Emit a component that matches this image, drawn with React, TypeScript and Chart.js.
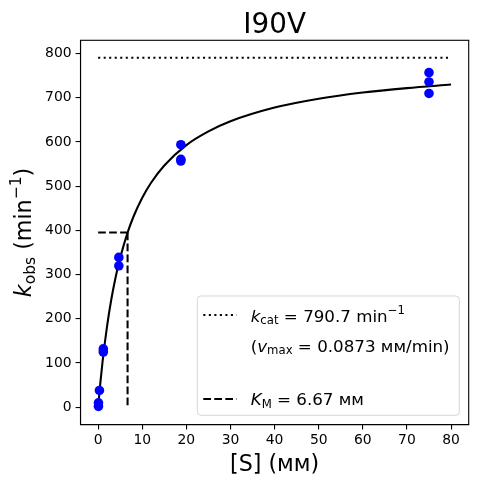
import React, { useEffect, useRef } from "react";
import { Chart, registerables } from "chart.js";

Chart.register(...registerables);

// Measured data: substrate concentration (mM) and observed rate (min^-1)
const substrateX = [0.073, 0.073, 0.293, 1.17, 1.17, 4.69, 4.69, 18.75, 18.75, 18.75, 75, 75, 75];
const kobsY = [2, 10, 38, 132, 125, 339, 320, 594, 561, 557, 757, 736, 710];

// Fitted curve
const curveX = [0, 0.5, 1, 2, 3, 4, 5, 6.67, 8, 10, 12, 15, 20, 25, 30, 40, 50, 60, 70, 80];
const curveY = [0, 55, 103, 182, 245, 296, 338, 395, 431, 474, 508, 547, 593, 624, 647, 678, 698, 712, 722, 730];

const kcat = 790.7;
const KM = 6.67;
const KMhalf = 395.35;
const xRange = [0, 80];

const xTicks = [0, 10, 20, 30, 40, 50, 60, 70, 80];
const yTicks = [0, 100, 200, 300, 400, 500, 600, 700, 800];

const FONT = "DejaVu Sans";

type Part = [string, string];

function partFont(kind: string, size: number) {
  const small = kind.startsWith("sub") || kind.startsWith("sup");
  const s = small ? size * 0.7 : size;
  const italic = kind === "i" || kind === "subi" || kind === "supi";
  return { font: `${italic ? "italic " : ""}${s}px "${FONT}"`, dy: kind.startsWith("sub") ? size * 0.16 : kind.startsWith("sup") ? -size * 0.45 : 0 };
}

function richWidth(ctx: CanvasRenderingContext2D, parts: Part[], size: number) {
  let w = 0;
  for (const [t, k] of parts) {
    ctx.font = partFont(k, size).font;
    w += ctx.measureText(t).width;
  }
  return w;
}

function drawRich(ctx: CanvasRenderingContext2D, parts: Part[], x: number, y: number, size: number, align: "left" | "center") {
  let cx = align === "center" ? x - richWidth(ctx, parts, size) / 2 : x;
  ctx.textAlign = "left";
  ctx.textBaseline = "alphabetic";
  ctx.fillStyle = "#000";
  for (const [t, k] of parts) {
    const f = partFont(k, size);
    ctx.font = f.font;
    ctx.fillText(t, cx, y + f.dy);
    cx += ctx.measureText(t).width;
  }
}

const decorPlugin = {
  id: "decor",
  afterDraw(chart: any) {
    const ctx: CanvasRenderingContext2D = chart.ctx;
    const a = chart.chartArea;
    ctx.save();
    // spines
    ctx.strokeStyle = "#000";
    ctx.lineWidth = 1.1;
    ctx.strokeRect(a.left, a.top, a.right - a.left, a.bottom - a.top);
    const cx = (a.left + a.right) / 2;
    const cy = (a.top + a.bottom) / 2;
    // title
    drawRich(ctx, [["I90V", "n"]], cx, 32.5, 27.8, "center");
    // x label
    drawRich(ctx, [["[S] (ᴍᴍ)", "n"]], cx, 471, 22.2, "center");
    // y label
    ctx.save();
    ctx.translate(31, cy);
    ctx.rotate(-Math.PI / 2);
    drawRich(ctx, [["k", "i"], ["obs", "sub"], [" (min", "n"], ["\u22121", "sup"], [")", "n"]], 0, 0, 22.2, "center");
    ctx.restore();

    // legend
    const lx = 197.3, ly = 296, lw = 262, lh = 119.3, r = 3.5;
    ctx.beginPath();
    ctx.moveTo(lx + r, ly);
    ctx.arcTo(lx + lw, ly, lx + lw, ly + lh, r);
    ctx.arcTo(lx + lw, ly + lh, lx, ly + lh, r);
    ctx.arcTo(lx, ly + lh, lx, ly, r);
    ctx.arcTo(lx, ly, lx + lw, ly, r);
    ctx.closePath();
    ctx.fillStyle = "rgba(255,255,255,0.8)";
    ctx.fill();
    ctx.strokeStyle = "rgba(204,204,204,0.8)";
    ctx.lineWidth = 1;
    ctx.stroke();

    const fs = 16.7;
    ctx.strokeStyle = "#000";
    ctx.lineWidth = 2.08;
    ctx.lineCap = "butt";
    ctx.setLineDash([2.08, 3.44]);
    ctx.beginPath();
    ctx.moveTo(203.3, 315);
    ctx.lineTo(236.7, 315);
    ctx.stroke();
    ctx.setLineDash([7.7, 3.3]);
    ctx.beginPath();
    ctx.moveTo(203.3, 399);
    ctx.lineTo(236.7, 399);
    ctx.stroke();
    ctx.setLineDash([]);

    const tx = 250.7;
    drawRich(ctx, [["k", "i"], ["cat", "sub"], [` = ${kcat} min`, "n"], ["\u22121", "sup"]], tx, 321.7, fs, "left");
    drawRich(ctx, [["(", "n"], ["v", "i"], ["max", "sub"], [" = 0.0873 ᴍᴍ/min)", "n"]], tx, 351.7, fs, "left");
    drawRich(ctx, [["K", "i"], ["M", "sub"], [` = ${KM} ᴍᴍ`, "n"]], tx, 405, fs, "left");
    ctx.restore();
  },
};

export default function App() {
  const ref = useRef<HTMLCanvasElement>(null);
  useEffect(() => {
    if (!ref.current) return;
    const tickFont = { family: FONT, size: 13.9 };
    const chart = new Chart(ref.current, {
      type: "scatter",
      data: {
        datasets: [
          {
            type: "scatter",
            data: substrateX.map((x, i) => ({ x, y: kobsY[i] })),
            backgroundColor: "#0000ff",
            borderWidth: 0,
            pointRadius: 4.8,
            order: 0,
          } as any,
          {
            type: "line",
            data: curveX.map((x, i) => ({ x, y: curveY[i] })),
            borderColor: "#000",
            borderWidth: 2.08,
            pointRadius: 0,
            cubicInterpolationMode: "monotone",
            fill: false,
            order: 1,
          },
          {
            type: "line",
            data: xRange.map((x) => ({ x, y: kcat })),
            borderColor: "#000",
            borderWidth: 2.08,
            borderDash: [2.08, 3.44],
            pointRadius: 0,
            fill: false,
            order: 1,
          },
          {
            type: "line",
            data: [{ x: 0, y: KMhalf }, { x: KM, y: KMhalf }],
            borderColor: "#000",
            borderWidth: 2.08,
            borderDash: [7.7, 3.3],
            pointRadius: 0,
            fill: false,
            order: 1,
          },
          {
            type: "line",
            data: [{ x: KM, y: KMhalf }, { x: KM, y: 0 }],
            borderColor: "#000",
            borderWidth: 2.08,
            borderDash: [7.7, 3.3],
            pointRadius: 0,
            fill: false,
            order: 1,
          },
        ],
      },
      options: {
        animation: false,
        responsive: false,
        devicePixelRatio: 1,
        layout: { padding: { top: 40.3, right: 8.3, left: 0, bottom: 0 } },
        plugins: { legend: { display: false }, tooltip: { enabled: false }, title: { display: false } },
        scales: {
          x: {
            type: "linear",
            min: -4,
            max: 84,
            afterBuildTicks: (s: any) => { s.ticks = xTicks.map((v) => ({ value: v })); },
            afterFit: (s: any) => { s.height = 59.3; },
            ticks: { font: tickFont, color: "#000", padding: 2, autoSkip: false, maxRotation: 0 },
            grid: { display: true, drawOnChartArea: false, drawTicks: true, tickLength: 4.9, color: "#000", lineWidth: 1.1 },
            border: { display: true, color: "#000", width: 1.1 },
          },
          y: {
            type: "linear",
            min: -39.5,
            max: 830.2,
            afterBuildTicks: (s: any) => { s.ticks = yTicks.map((v) => ({ value: v })); },
            afterFit: (s: any) => { s.width = 80.5; },
            ticks: { font: tickFont, color: "#000", padding: 4, autoSkip: false },
            grid: { display: true, drawOnChartArea: false, drawTicks: true, tickLength: 4.9, color: "#000", lineWidth: 1.1 },
            border: { display: true, color: "#000", width: 1.1 },
          },
        },
      },
      plugins: [decorPlugin],
    } as any);
    return () => chart.destroy();
  }, []);
  return (
    <div style={{ position: "absolute", left: 0, top: 0, width: 477, height: 484, background: "#fff" }}>
      <canvas ref={ref} width={477} height={484} style={{ width: 477, height: 484 }} />
    </div>
  );
}
